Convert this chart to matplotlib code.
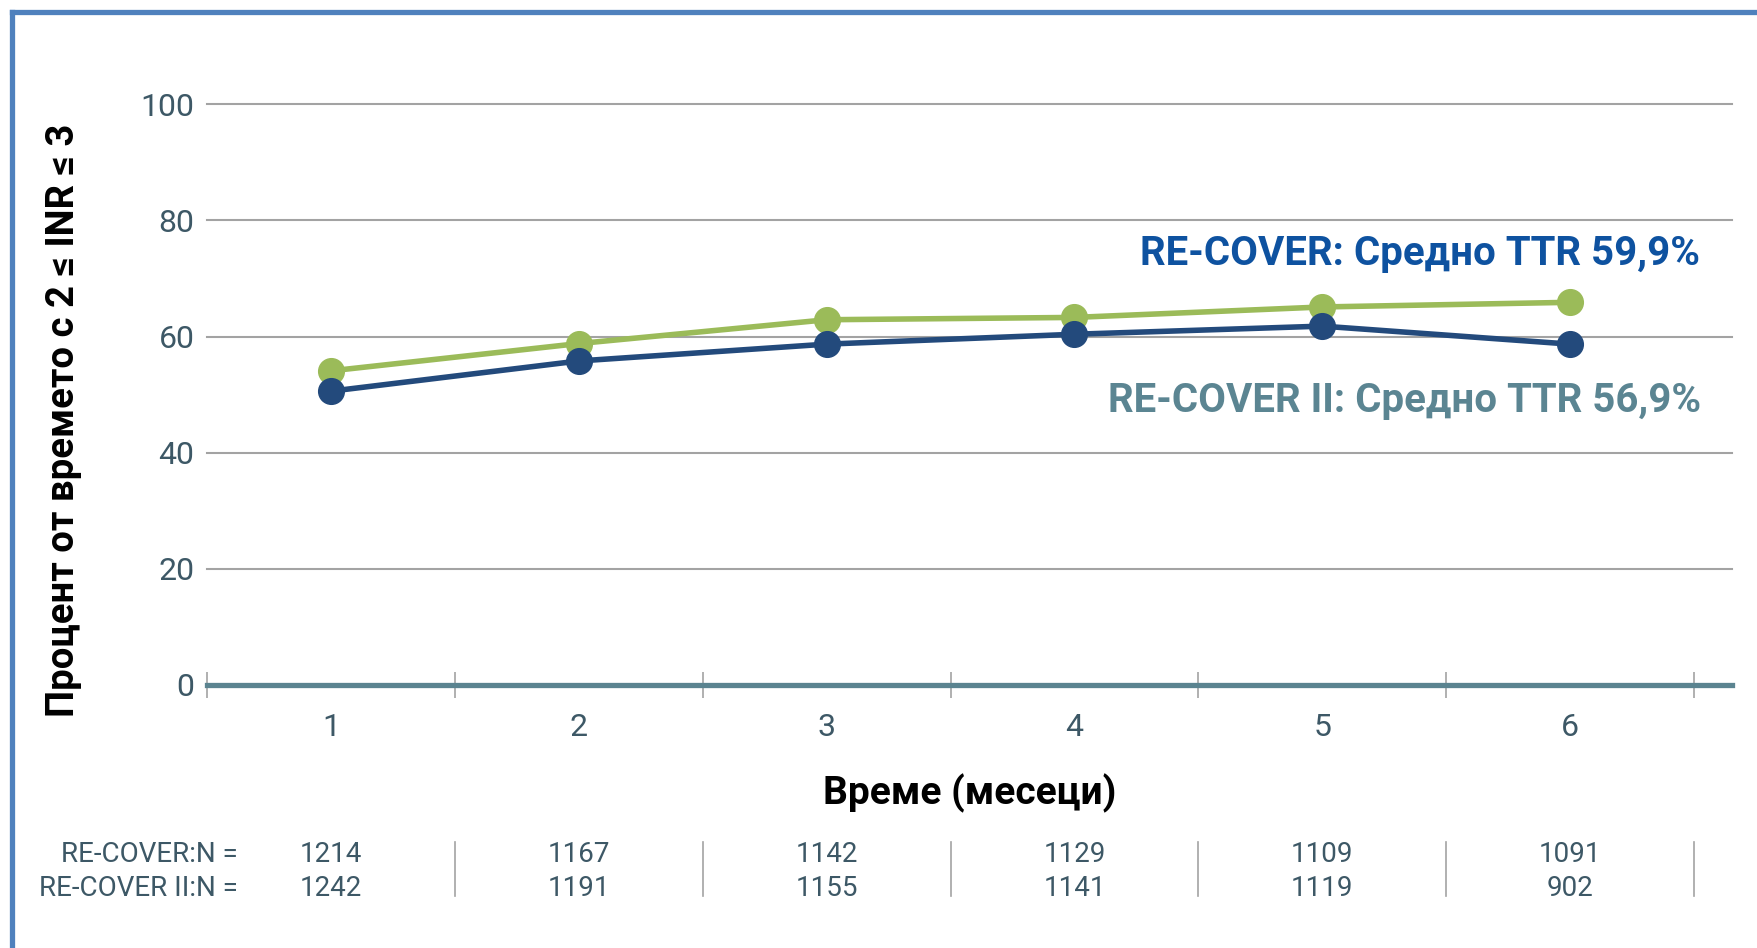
import matplotlib
matplotlib.use("Agg")
import matplotlib.pyplot as plt
from matplotlib.lines import Line2D

# --- data -------------------------------------------------------------
months = [1, 2, 3, 4, 5, 6]
month_labels = ["1", "2", "3", "4", "5", "6"]
recover_ttr = [54.1, 58.8, 62.9, 63.3, 65.1, 65.9]      # green series
recover2_ttr = [50.6, 55.8, 58.7, 60.4, 61.8, 58.7]     # dark blue series
y_ticks = [0, 20, 40, 60, 80, 100]
n_recover = ["1214", "1167", "1142", "1129", "1109", "1091"]
n_recover2 = ["1242", "1191", "1155", "1141", "1119", "902"]
row_labels = ["RE-COVER:N =", "RE-COVER II:N ="]
note_recover = "RE-COVER: Средно TTR 59,9%"
note_recover2 = "RE-COVER II: Средно TTR 56,9%"
y_title = "Процент от времето с 2 ≤ INR ≤ 3"
x_title = "Време (месеци)"

FONT = ["Roboto", "DejaVu Sans"]
plt.rcParams["font.family"] = FONT

W, H = 1758, 948
fig = plt.figure(figsize=(W / 100, H / 100), dpi=100)

def px(x, y):
    """pixel (from top-left) -> figure fraction"""
    return x / W, 1 - y / H

left, right = 207, 1732
top, bottom = 104.3, 685
ax = fig.add_axes([left / W, 1 - bottom / H, (right - left) / W, (bottom - top) / H])

tick_col = "#3d5866"
grid_col = "#a3a3a3"
axis_col = "#5b8490"

ax.set_xlim(0.5, 6.653)
ax.set_ylim(0, 100)
for s in ax.spines.values():
    s.set_visible(False)

# grid lines
ax.set_yticks(y_ticks)
ax.set_yticklabels([str(v) for v in y_ticks])
for v in y_ticks[1:]:
    ax.axhline(v, color=grid_col, lw=1.5, zorder=1, clip_on=False)
ax.axhline(0, color=axis_col, lw=3.8, zorder=2, clip_on=False)

ax.tick_params(axis="y", length=0, pad=9, labelsize=23, labelcolor=tick_col)
ax.set_xticks(months)
ax.set_xticklabels(month_labels)
ax.tick_params(axis="x", which="major", length=0, pad=20, labelsize=23,
               labelcolor=tick_col)
ax.set_xticks([m - 0.5 for m in months] + [6.5], minor=True)
ax.tick_params(axis="x", which="minor", direction="inout", length=18.5,
               width=1.2, color=grid_col)

# series
ax.plot(months, recover_ttr, color="#9bbb59", lw=4, marker="o", ms=18.5,
        zorder=3, clip_on=False)
ax.plot(months, recover2_ttr, color="#234a7c", lw=4, marker="o", ms=18.5,
        zorder=4, clip_on=False)

# mean TTR notes
fig.text(*px(1700, 254), note_recover, ha="right", va="center", fontsize=29,
         fontweight="bold", color="#0e52a0")
fig.text(*px(1701, 401), note_recover2, ha="right", va="center", fontsize=29,
         fontweight="bold", color="#5b8592")

# axis titles
fig.text(*px(64, 420), y_title, rotation=90, ha="center", va="center",
         fontsize=27.5, fontweight="bold", color="black")
fig.text(*px(970, 793), x_title, ha="center", va="center", fontsize=28,
         fontweight="bold", color="black")

# N-at-risk table
row_y = [854, 888]
for lab, yy in zip(row_labels, row_y):
    fig.text(*px(238, yy), lab, ha="right", va="center", fontsize=20,
             color=tick_col)
for m, a, b in zip(months, n_recover, n_recover2):
    xf = ax.transData.transform((m, 0))[0] / W
    fig.text(xf, 1 - row_y[0] / H, a, ha="center", va="center", fontsize=20,
             color=tick_col)
    fig.text(xf, 1 - row_y[1] / H, b, ha="center", va="center", fontsize=20,
             color=tick_col)
    xs = ax.transData.transform((m + 0.5, 0))[0] / W
    fig.add_artist(Line2D([xs, xs], [1 - 842 / H, 1 - 896 / H],
                          color=grid_col, lw=1.2))

# frame on left and top
border = "#4f81bd"
fig.add_artist(Line2D([12 / W, 12 / W], [0, 1 - 12 / H], color=border, lw=3.8,
                      solid_capstyle="projecting"))
fig.add_artist(Line2D([12 / W, 1], [1 - 12 / H, 1 - 12 / H], color=border,
                      lw=3.8, solid_capstyle="projecting"))

fig.savefig("out.png", dpi=100, facecolor="white")
